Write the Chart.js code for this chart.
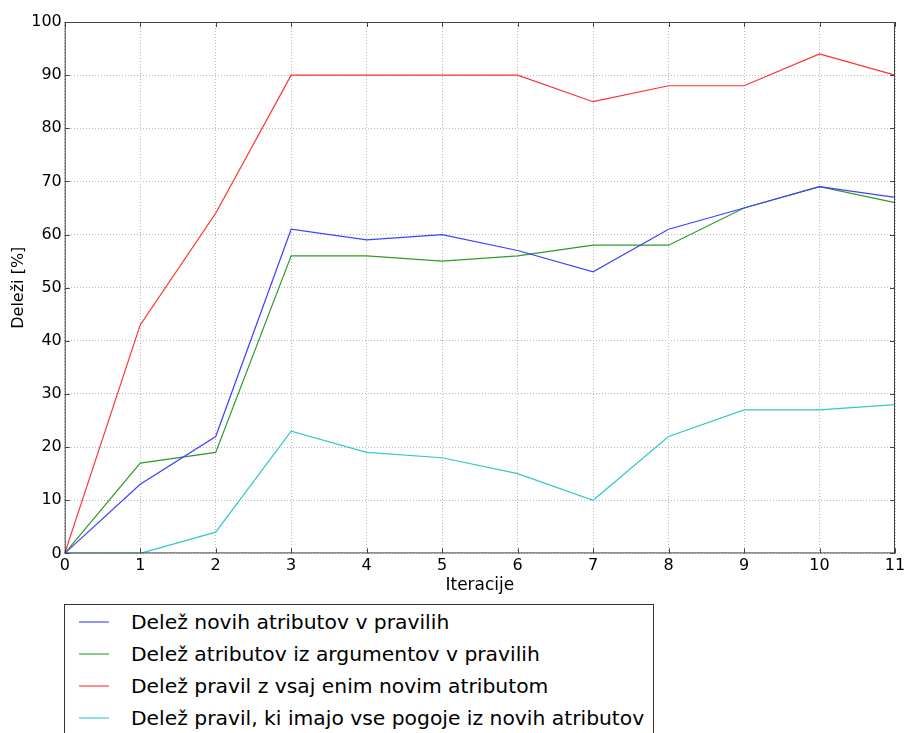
<!DOCTYPE html>
<html>
<head>
<meta charset="utf-8">
<script src="https://cdn.jsdelivr.net/npm/chart.js@4"></script>
<style>
  html, body { margin: 0; padding: 0; background: #fff; overflow: hidden; }
  #wrap { position: relative; width: 905px; height: 733px; }
  #legend {
    position: absolute; left: 64px; top: 604px; width: 588px; height: 160px;
    border: 1px solid #333; background: #fff;
    font-family: "DejaVu Sans", sans-serif; font-size: 20.3px; color: #000;
  }
  #legend .row { position: absolute; left: 0; height: 32px; line-height: 32px; white-space: nowrap; }
  #legend .swatch { position: absolute; left: 14px; top: 15px; width: 30px; height: 2px; opacity: 0.55; }
  #legend .label { position: absolute; left: 66px; top: 0; }
</style>
</head>
<body>
<div id="wrap">
  <canvas id="chart" width="905" height="733"></canvas>
  <div id="legend"></div>
</div>
<script>
const iterations = ['0', '1', '2', '3', '4', '5', '6', '7', '8', '9', '10', '11'];
const newAttrs = [0, 13, 22, 61, 59, 60, 57, 53, 61, 65, 69, 67];
const argAttrs = [0, 17, 19, 56, 56, 55, 56, 58, 58, 65, 69, 66];
const rulesAny = [0, 43, 64, 90, 90, 90, 90, 85, 88, 88, 94, 90];
const rulesAll = [0, 0, 4, 23, 19, 18, 15, 10, 22, 27, 27, 28];

const seriesNames = [
    'Delež novih atributov v pravilih',
    'Delež atributov iz argumentov v pravilih',
    'Delež pravil z vsaj enim novim atributom',
    'Delež pravil, ki imajo vse pogoje iz novih atributov'
];
const seriesColors = ['#4040ff', '#2e9a2e', '#ff3030', '#30c8c8'];

// frame around the plot area plus inward ticks (matplotlib classic look)
const frame = {
    id: 'frame',
    afterDatasetsDraw(chart) {
        const {ctx, chartArea: a, scales: {x, y}} = chart;
        ctx.save();
        ctx.strokeStyle = '#444';
        ctx.lineWidth = 1;
        ctx.strokeRect(a.left + 0.5, a.top + 0.5, a.right - a.left - 1, a.bottom - a.top - 1);
        ctx.beginPath();
        iterations.forEach((_, i) => {
            const px = Math.round(x.getPixelForValue(i)) + 0.5;
            ctx.moveTo(px, a.bottom); ctx.lineTo(px, a.bottom - 5);
            ctx.moveTo(px, a.top); ctx.lineTo(px, a.top + 5);
        });
        for (let v = 0; v <= 100; v += 10) {
            const py = Math.round(y.getPixelForValue(v)) + 0.5;
            ctx.moveTo(a.left, py); ctx.lineTo(a.left + 5, py);
            ctx.moveTo(a.right, py); ctx.lineTo(a.right - 5, py);
        }
        ctx.stroke();
        ctx.restore();
    }
};

const ctx = document.getElementById('chart').getContext('2d');
const values = [newAttrs, argAttrs, rulesAny, rulesAll];

const chart = new Chart(ctx, {
    type: 'line',
    data: {
        labels: iterations,
        datasets: values.map((v, i) => ({
            label: seriesNames[i],
            data: v,
            borderColor: seriesColors[i],
            borderWidth: 1.2,
            pointRadius: 0,
            tension: 0,
            fill: false
        }))
    },
    options: {
        responsive: false,
        animation: false,
        layout: { padding: { left: 9, right: 10, top: 22, bottom: 137 } },
        plugins: {
            legend: { display: false },
            tooltip: { enabled: false }
        },
        scales: {
            x: {
                type: 'category',
                offset: false,
                afterFit: scale => { scale.paddingRight = 0; },
                grid: { color: '#b8b8b8', drawTicks: false },
                border: { display: false, dash: [1, 2] },
                ticks: { color: '#000', font: { family: 'DejaVu Sans', size: 16 }, padding: 3, maxRotation: 0 },
                title: { display: true, text: 'Iteracije', color: '#000', font: { family: 'DejaVu Sans', size: 17 }, padding: { top: -3, bottom: 0 } }
            },
            y: {
                min: 0, max: 100,
                grid: { color: '#b8b8b8', drawTicks: false },
                border: { display: false, dash: [1, 2] },
                ticks: { stepSize: 10, color: '#000', font: { family: 'DejaVu Sans', size: 16 }, padding: 3 },
                title: { display: true, text: 'Deleži [%]', color: '#000', font: { family: 'DejaVu Sans', size: 16 }, padding: { top: 0, bottom: 0 } }
            }
        }
    },
    plugins: [frame]
});

// html legend built from the datasets
const legend = document.getElementById('legend');
chart.data.datasets.forEach((ds, i) => {
    const row = document.createElement('div');
    row.className = 'row';
    row.style.top = (1 + i * 32) + 'px';
    row.innerHTML = '<div class="swatch" style="background:' + ds.borderColor + '"></div><div class="label">' + ds.label + '</div>';
    legend.appendChild(row);
});
</script>
</body>
</html>
